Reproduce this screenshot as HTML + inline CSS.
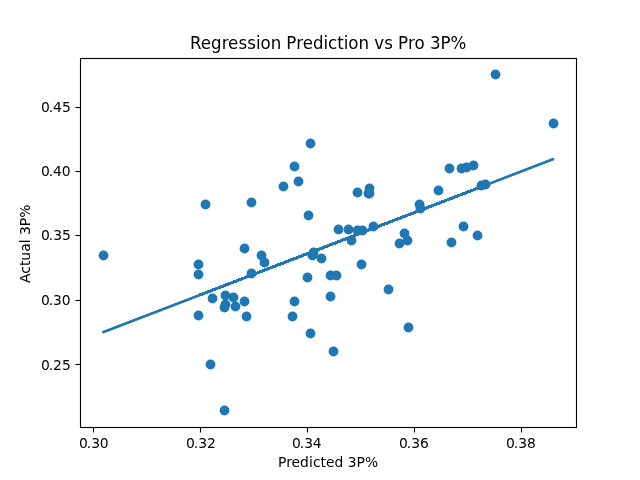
<!DOCTYPE html>
<html lang="en">
<head>
<meta charset="utf-8">
<title>Regression Prediction vs Pro 3P%</title>
<style>
html,body{margin:0;padding:0;background:#fff;}
body{width:640px;height:480px;overflow:hidden;}
svg{display:block;}
text{font-family:"DejaVu Sans","Liberation Sans",sans-serif;fill:#000;}
.ax{stroke:#000;stroke-width:1.111;fill:none;}
.pt{fill:#1f77b4;}
</style>
</head>
<body>
<svg width="640" height="480" viewBox="0 0 640 480">
<rect x="0" y="0" width="640" height="480" fill="#ffffff"/>

<g class="pt">
<circle cx="103.5" cy="255.5" r="4.9"/>
<circle cx="205.5" cy="204.5" r="4.9"/>
<circle cx="198.5" cy="264.5" r="4.9"/>
<circle cx="198.5" cy="274.5" r="4.9"/>
<circle cx="198.5" cy="315.5" r="4.9"/>
<circle cx="212.5" cy="298.5" r="4.9"/>
<circle cx="210.5" cy="364.5" r="4.9"/>
<circle cx="224.5" cy="410.5" r="4.9"/>
<circle cx="225.5" cy="295.5" r="4.9"/>
<circle cx="233.5" cy="297.5" r="4.9"/>
<circle cx="225.5" cy="304.5" r="4.9"/>
<circle cx="224.5" cy="307.5" r="4.9"/>
<circle cx="235.5" cy="306.5" r="4.9"/>
<circle cx="244.5" cy="301.5" r="4.9"/>
<circle cx="246.5" cy="316.5" r="4.9"/>
<circle cx="251.5" cy="273.5" r="4.9"/>
<circle cx="264.5" cy="262.5" r="4.9"/>
<circle cx="261.5" cy="255.5" r="4.9"/>
<circle cx="244.5" cy="248.5" r="4.9"/>
<circle cx="251.5" cy="202.5" r="4.9"/>
<circle cx="294.5" cy="301.5" r="4.9"/>
<circle cx="292.5" cy="316.5" r="4.9"/>
<circle cx="307.5" cy="277.5" r="4.9"/>
<circle cx="310.5" cy="333.5" r="4.9"/>
<circle cx="321.5" cy="258.5" r="4.9"/>
<circle cx="330.5" cy="275.5" r="4.9"/>
<circle cx="336.5" cy="275.5" r="4.9"/>
<circle cx="330.5" cy="296.5" r="4.9"/>
<circle cx="333.5" cy="351.5" r="4.9"/>
<circle cx="310.5" cy="143.5" r="4.9"/>
<circle cx="294.5" cy="166.5" r="4.9"/>
<circle cx="298.5" cy="181.5" r="4.9"/>
<circle cx="283.5" cy="186.5" r="4.9"/>
<circle cx="308.5" cy="215.5" r="4.9"/>
<circle cx="357.5" cy="192.5" r="4.9"/>
<circle cx="369.5" cy="188.5" r="4.9"/>
<circle cx="368.5" cy="193.5" r="4.9"/>
<circle cx="369.5" cy="193.5" r="4.9"/>
<circle cx="338.5" cy="229.5" r="4.9"/>
<circle cx="348.5" cy="229.5" r="4.9"/>
<circle cx="357.5" cy="230.5" r="4.9"/>
<circle cx="362.5" cy="230.5" r="4.9"/>
<circle cx="373.5" cy="226.5" r="4.9"/>
<circle cx="351.5" cy="240.5" r="4.9"/>
<circle cx="313.5" cy="252.5" r="4.9"/>
<circle cx="312.5" cy="255.5" r="4.9"/>
<circle cx="361.5" cy="264.5" r="4.9"/>
<circle cx="388.5" cy="289.5" r="4.9"/>
<circle cx="408.5" cy="327.5" r="4.9"/>
<circle cx="404.5" cy="233.5" r="4.9"/>
<circle cx="407.5" cy="240.5" r="4.9"/>
<circle cx="399.5" cy="243.5" r="4.9"/>
<circle cx="419.5" cy="204.5" r="4.9"/>
<circle cx="420.5" cy="208.5" r="4.9"/>
<circle cx="449.5" cy="168.5" r="4.9"/>
<circle cx="461.5" cy="168.5" r="4.9"/>
<circle cx="466.5" cy="167.5" r="4.9"/>
<circle cx="473.5" cy="165.5" r="4.9"/>
<circle cx="438.5" cy="190.5" r="4.9"/>
<circle cx="481.5" cy="185.5" r="4.9"/>
<circle cx="485.5" cy="184.5" r="4.9"/>
<circle cx="463.5" cy="226.5" r="4.9"/>
<circle cx="477.5" cy="235.5" r="4.9"/>
<circle cx="451.5" cy="242.5" r="4.9"/>
<circle cx="495.5" cy="74.5" r="4.9"/>
<circle cx="553.5" cy="123.5" r="4.9"/>
</g>
<g stroke="#1f77b4" stroke-linecap="round">
<line x1="103.25" y1="332.15" x2="553.15" y2="159.18" stroke-width="2.3"/>
<line x1="103.25" y1="332.15" x2="553.15" y2="159.18" stroke-width="2.3"/>
<line x1="200" y1="294.95" x2="487" y2="184.61" stroke-width="3.1" shape-rendering="crispEdges" stroke-linecap="butt"/>
</g>
<g class="ax">
<line x1="93.5" y1="427.5" x2="93.5" y2="432.5"/>
<line x1="200.5" y1="427.5" x2="200.5" y2="432.5"/>
<line x1="307.5" y1="427.5" x2="307.5" y2="432.5"/>
<line x1="414.5" y1="427.5" x2="414.5" y2="432.5"/>
<line x1="521.5" y1="427.5" x2="521.5" y2="432.5"/>
<line x1="75.5" y1="364.5" x2="80.5" y2="364.5"/>
<line x1="75.5" y1="300.5" x2="80.5" y2="300.5"/>
<line x1="75.5" y1="235.5" x2="80.5" y2="235.5"/>
<line x1="75.5" y1="171.5" x2="80.5" y2="171.5"/>
<line x1="75.5" y1="107.5" x2="80.5" y2="107.5"/>
<rect x="80.5" y="58.5" width="496" height="369"/>
</g>
<text transform="translate(93.04 448)" font-size="13.889" text-anchor="start" x="-13.95 -6.39 -1.72 6.61">0.30</text>
<text transform="translate(200.13 448)" font-size="13.889" text-anchor="start" x="-14.2 -6.39 -1.97 6.86">0.32</text>
<text transform="translate(306.23 448)" font-size="13.889" text-anchor="start" x="-14.2 -6.39 -1.97 6.61">0.34</text>
<text transform="translate(413.33 448)" font-size="13.889" text-anchor="start" x="-14.45 -6.64 -1.97 6.61">0.36</text>
<text transform="translate(520.43 448)" font-size="13.889" text-anchor="start" x="-14.45 -6.64 -2.22 6.61">0.38</text>
<text transform="translate(328 467)" font-size="13.889" text-anchor="start" x="-49.97 -41.86 -36.45 -27.92 -19.11 -15 -7.62 -1.94 6.59 15.16 19.81 28.39 37.02">Predicted 3P%</text>
<text transform="translate(29.51 243.8) rotate(-90) scale(1 0.95)" font-size="13.889" text-anchor="start" x="-39.13 -29.89 -22.26 -16.95 -8.03 0.47 4.33 8.74 17.57 26.05">Actual 3P%</text>
<text transform="translate(70.78 370)" font-size="13.889" text-anchor="start" x="-29.66 -22.09 -17.67 -8.84">0.25</text>
<text transform="translate(70.78 305)" font-size="13.889" text-anchor="start" x="-29.66 -22.09 -17.67 -9.09">0.30</text>
<text transform="translate(70.78 240)" font-size="13.889" text-anchor="start" x="-29.66 -22.09 -17.42 -8.84">0.35</text>
<text transform="translate(70.78 176)" font-size="13.889" text-anchor="start" x="-29.66 -22.09 -17.67 -9.09">0.40</text>
<text transform="translate(70.78 112)" font-size="13.889" text-anchor="start" x="-29.66 -22.09 -17.67 -8.84">0.45</text>
<text transform="translate(328.2 48.52) scale(1 1.065)" font-size="16.667" text-anchor="start" x="-138.2 -127.39 -117.15 -106.45 -100.09 -89.6 -80.91 -72.25 -67.62 -57.42 -47.12 -42.07 -32.08 -25.34 -15.1 -4.78 -0.15 9 15.53 20.16 30.34 40.9 45.94 56.06 64.72 69.77 79.77 86.25 96.44 101.73 112.32 122.37">Regression Prediction vs Pro 3P%</text>
</svg>
</body>
</html>
